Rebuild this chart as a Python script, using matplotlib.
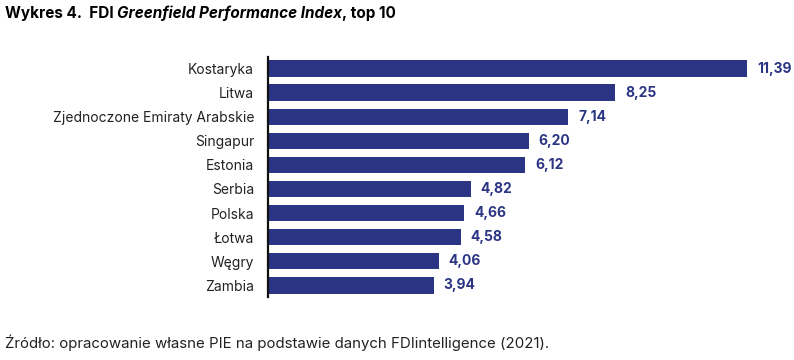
import matplotlib.pyplot as plt

plt.rcParams['font.family'] = ['Inter', 'DejaVu Sans']

kraje = ["Kostaryka", "Litwa", "Zjednoczone Emiraty Arabskie", "Singapur", "Estonia",
         "Serbia", "Polska", "Łotwa", "Węgry", "Zambia"]
wartosci = [11.39, 8.25, 7.14, 6.20, 6.12, 4.82, 4.66, 4.58, 4.06, 3.94]

kolor = "#2b3584"

fig = plt.figure(figsize=(7.94, 3.6), dpi=100)
ax = fig.add_axes([0.3375, 0.174, 0.662, 0.669])

y = list(range(len(kraje)))
ax.barh(y, wartosci, height=0.68, color=kolor)
ax.set_ylim(len(kraje) - 0.5, -0.5)
ax.set_xlim(0, 12.5)

for yi, v in zip(y, wartosci):
    ax.text(v + 0.24, yi, f"{v:.2f}".replace(".", ","), va="center", ha="left",
            fontsize=10, fontweight="bold", color=kolor)

ax.set_yticks(y)
ax.set_yticklabels(kraje, fontsize=10, color="#222222")
ax.tick_params(axis="y", length=0, pad=10)
ax.set_xticks([])
for s in ["top", "right", "bottom"]:
    ax.spines[s].set_visible(False)
ax.spines["left"].set_linewidth(1.6)
ax.spines["left"].set_color("#111111")

# tytuł z kursywą w środku
fig.canvas.draw()
r = fig.canvas.get_renderer()
t1 = fig.text(0.006, 0.963, "Wykres 4.  FDI ", fontsize=11, fontweight="bold", va="center", ha="left")
bb = t1.get_window_extent(r)
t2 = fig.text(bb.x1 / fig.bbox.width, 0.963, "Greenfield Performance Index", fontsize=11,
              fontweight="bold", style="italic", va="center", ha="left")
bb2 = t2.get_window_extent(r)
fig.text(bb2.x1 / fig.bbox.width, 0.963, ", top 10", fontsize=11, fontweight="bold",
         va="center", ha="left")

fig.text(0.006, 0.047, "Źródło: opracowanie własne PIE na podstawie danych FDIintelligence (2021).",
         fontsize=10.8, va="center", ha="left", color="#222222")

fig.savefig("out.png", dpi=100)
